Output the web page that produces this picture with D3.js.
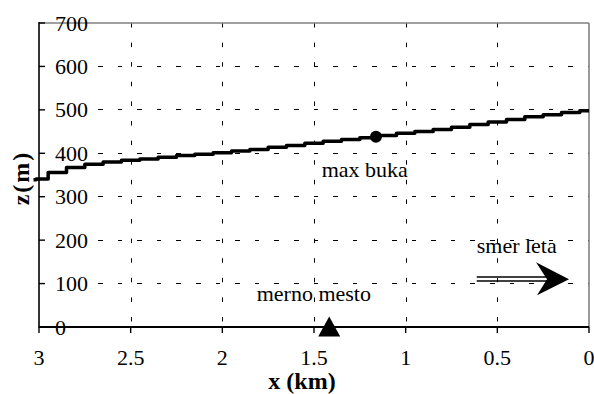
<html><head><meta charset="utf-8"><script src="https://cdn.jsdelivr.net/npm/d3@7"></script></head>
<body style="margin:0">
<svg id="chart" width="594" height="394"></svg>
<script>
// ---- data ----
const xKm = [3.03, 3.0, 2.9, 2.8, 2.7, 2.6, 2.5, 2.4, 2.3, 2.2, 2.1, 2.0, 1.9, 1.8, 1.7, 1.6,
             1.5, 1.4, 1.3, 1.2, 1.1, 1.0, 0.9, 0.8, 0.7, 0.6, 0.5, 0.4, 0.3, 0.2, 0.1, 0.0];
const zM  = [339, 341, 356, 367, 375, 380, 384, 387, 391, 395, 398, 401, 405, 409, 414, 418,
             423, 428, 432, 436, 441, 446, 450, 455, 460, 466, 472, 478, 484, 489, 494, 498];
const xTicks = [3, 2.5, 2, 1.5, 1, 0.5, 0];
const xTickLabels = ["3", "2.5", "2", "1.5", "1", "0.5", "0"];
const yTicks = [0, 100, 200, 300, 400, 500, 600, 700];
const yTickLabels = ["0", "100", "200", "300", "400", "500", "600", "700"];
const maxPoint = [{x: 1.162, z: 438, label: "max buka"}];
const station = [{x: 1.417, z: 0, label: "merno mesto"}];
const flight = {label: "smer leta", xFrom: 0.6125, xTo: 0.109, z: 110};
const labelPos = {maxBuka: [1.458, 346], merno: [1.8126, 60.6], smer: [0.6125, 169.7]};

// ---- layout ----
const svg = d3.select("#chart");
const L = 39, R = 589, T = 23, B = 327;
const xs = d3.scaleLinear().domain([3, 0]).range([L, R]);
const ys = d3.scaleLinear().domain([0, 700]).range([B, T]);

// text specs built from the arrays
const texts = [];
yTicks.forEach((d, i) => texts.push({t: yTickLabels[i], x: 55, y: ys(d) + 7.5, s: 22, a: "start", w: "normal"}));
xTicks.forEach((d, i) => texts.push({t: xTickLabels[i], x: xs(d), y: 365, s: 22, a: "middle", w: "normal"}));
texts.push({t: maxPoint[0].label, x: xs(labelPos.maxBuka[0]), y: ys(labelPos.maxBuka[1]), s: 22, a: "start", w: "normal"});
texts.push({t: station[0].label, x: xs(labelPos.merno[0]), y: ys(labelPos.merno[1]), s: 22, a: "start", w: "normal"});
texts.push({t: flight.label, x: xs(labelPos.smer[0]), y: ys(labelPos.smer[1]), s: 22, a: "start", w: "normal"});
texts.push({t: "x (km)", x: 302, y: 389, s: 24, a: "middle", w: "bold"});

// grid lines
const g = svg.append("g");
g.selectAll("line.hg").data(yTicks.filter(v => v > 0 && v < 700)).enter().append("line")
  .attr("x1", 98).attr("x2", R).attr("y1", d => ys(d)).attr("y2", d => ys(d))
  .attr("stroke", "#000").attr("stroke-width", 1).attr("stroke-dasharray", "4.5,15.1")
  .attr("shape-rendering", "crispEdges");
g.selectAll("line.vg").data(xTicks.filter(v => v > 0 && v < 3)).enter().append("line")
  .attr("x1", d => Math.round(xs(d)) + 0.5).attr("x2", d => Math.round(xs(d)) + 0.5)
  .attr("y1", T).attr("y2", B)
  .attr("stroke", "#000").attr("stroke-width", 1).attr("stroke-dasharray", "4.5,15.1");

// frame: top & right grey
svg.append("line").attr("x1", L).attr("x2", R).attr("y1", T).attr("y2", T)
  .attr("stroke", "#808080").attr("stroke-width", 1.6);
svg.append("line").attr("x1", R).attr("x2", R).attr("y1", T).attr("y2", B)
  .attr("stroke", "#808080").attr("stroke-width", 1.6);

// axes
svg.append("line").attr("x1", L).attr("x2", L).attr("y1", T - 1).attr("y2", B + 1)
  .attr("stroke", "#000").attr("stroke-width", 1.6);
svg.selectAll("line.yt").data(yTicks).enter().append("line")
  .attr("x1", L).attr("x2", L + 6).attr("y1", d => ys(d)).attr("y2", d => ys(d))
  .attr("stroke", "#000").attr("stroke-width", 1.4);
svg.append("line").attr("x1", L).attr("x2", R).attr("y1", B).attr("y2", B)
  .attr("stroke", "#000").attr("stroke-width", 2);
svg.selectAll("line.xt").data(xTicks).enter().append("line")
  .attr("x1", d => xs(d)).attr("x2", d => xs(d)).attr("y1", B).attr("y2", B + 6)
  .attr("stroke", "#000").attr("stroke-width", 1.4);

// flight path line
const pts = xKm.map((v, i) => [v, zM[i]]);
svg.append("path").datum(pts)
  .attr("d", d3.line().x(d => xs(d[0])).y(d => ys(d[1])).curve(d3.curveStep))
  .attr("fill", "none").attr("stroke", "#000").attr("stroke-width", 3.5)
  .attr("stroke-linejoin", "round");

// max noise point
svg.selectAll("circle.mp").data(maxPoint).enter().append("circle")
  .attr("cx", d => xs(d.x)).attr("cy", d => ys(d.z)).attr("r", 6).attr("fill", "#000");

// measurement station triangle
svg.selectAll("path.st").data(station).enter().append("path")
  .attr("d", d => {
    const cx = xs(d.x), cy = ys(d.z);
    return `M${cx},${cy - 10.5} L${cx + 11},${cy + 9.5} L${cx - 11},${cy + 9.5} Z`;
  })
  .attr("fill", "#000");

// flight direction arrow
const ax0 = xs(flight.xFrom), ax1 = xs(flight.xTo), ay = ys(flight.z);
const notch = ax1 - 22;
svg.append("line").attr("x1", ax0).attr("x2", notch + 2).attr("y1", ay - 2.2).attr("y2", ay - 2.2)
  .attr("stroke", "#000").attr("stroke-width", 1.4);
svg.append("line").attr("x1", ax0).attr("x2", notch + 2).attr("y1", ay + 1.8).attr("y2", ay + 1.8)
  .attr("stroke", "#000").attr("stroke-width", 1.4);
svg.append("path")
  .attr("d", `M${ax1},${ay} L${ax1 - 33},${ay - 17} L${notch},${ay} L${ax1 - 32},${ay + 16} Z`)
  .attr("fill", "#000");

// texts
svg.selectAll("text.lbl").data(texts).enter().append("text")
  .attr("x", d => d.x).attr("y", d => d.y)
  .attr("font-size", d => d.s).attr("font-family", "Liberation Serif")
  .attr("font-weight", d => d.w).attr("text-anchor", d => d.a)
  .text(d => d.t);
svg.append("text").attr("transform", "translate(29,178) rotate(-90)")
  .attr("text-anchor", "middle").attr("font-size", 24).attr("font-family", "Liberation Serif")
  .attr("font-weight", "bold").attr("letter-spacing", 2).text("z(m)");
</script>
</body></html>
